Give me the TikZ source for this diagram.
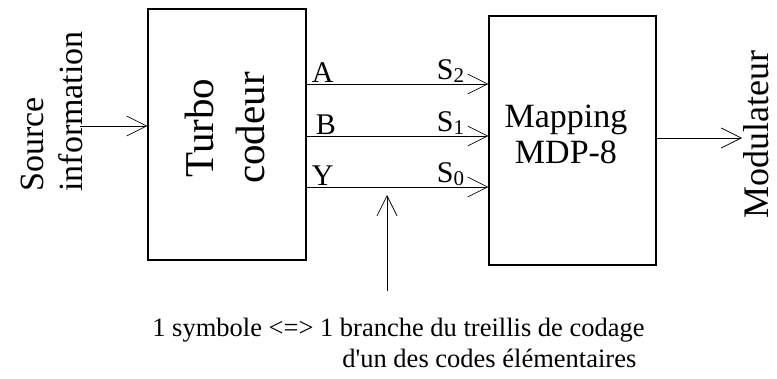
\documentclass[tikz,border=0pt]{standalone}
\usepackage{fontspec}
\setmainfont{Liberation Serif}
\usetikzlibrary{arrows.meta,positioning}

\begin{document}
\begin{tikzpicture}[x=1pt, y=-1pt, line width=0.7pt,
	>={Straight Barb[length=20pt,width=20pt,line width=0.7pt]},
	bloc/.style={draw, line width=1.1pt, inner sep=0pt},
	grand/.style={font=\fontsize{36}{40}\selectfont},
	lettre/.style={font=\fontsize{30}{32}\selectfont, inner sep=1pt},
	texte/.style={font=\fontsize{26.5}{30}\selectfont, inner sep=0pt}]
	\useasboundingbox (0,0) rectangle (777,378);
	% blocs
	\node [bloc, minimum width=158pt, minimum height=251pt] (turbo) at (227,134.5) {};
	\node [grand, font=\fontsize{41}{51}\selectfont, rotate=90, align=center] (turbotxt) at (225,128) {Turbo\\codeur};
	\node [bloc, minimum width=167pt, minimum height=249pt] (mapping) at (572.5,140.5) {};
	\node [grand, font=\fontsize{34}{36}\selectfont, align=center] (maptxt) at (566,134) {Mapping\\MDP-8};
	% entree et sortie
	\node [grand, font=\fontsize{34}{39}\selectfont, rotate=90, align=left, anchor=base west, inner sep=0pt] (source) at (82,192) {Source\\information};
	\coordinate (entree) at (80,126);
	\draw [->] (entree) -- (turbo.west |- entree);
	\node [grand, rotate=90, anchor=base, inner sep=0pt] (modulateur) at (768,135) {Modulateur};
	\coordinate (sortie) at (742,138);
	\draw [->] (mapping.east |- sortie) -- (sortie);
	% branches
	\coordinate (ya) at (0,84);
	\coordinate (yb) at (0,136);
	\coordinate (yy) at (0,187);
	\draw [->] (turbo.east |- ya) -- (mapping.west |- ya);
	\draw [->] (turbo.east |- yb) -- (mapping.west |- yb);
	\draw [->] (turbo.east |- yy) -- (mapping.west |- yy);
	\node [lettre, anchor=south west, xshift=4pt] (la) at (turbo.east |- ya) {A};
	\node [lettre, anchor=south west, xshift=8pt] (lb) at (turbo.east |- yb) {B};
	\node [lettre, anchor=south west, xshift=4pt] (ly) at (turbo.east |- yy) {Y};
	\node [lettre, anchor=south east, xshift=-23pt] (s2) at (mapping.west |- ya) {S\raisebox{-0.1em}{\fontsize{21}{22}\selectfont 2}};
	\node [lettre, anchor=south east, xshift=-23pt] (s1) at (mapping.west |- yb) {S\raisebox{-0.1em}{\fontsize{21}{22}\selectfont 1}};
	\node [lettre, anchor=south east, xshift=-23pt] (s0) at (mapping.west |- yy) {S\raisebox{-0.1em}{\fontsize{21}{22}\selectfont 0}};
	% legende
	\coordinate (pied) at (387,291);
	\coordinate (pointe) at (387,195);
	\draw [->] (pied) -- (pointe);
	\node [texte, anchor=base west] (ligne1) at (152,336) {1 symbole <=> 1 branche du treillis de codage};
	\node [texte, anchor=base west] (ligne2) at (342,367) {d\textquotesingle un des codes élémentaires};
\end{tikzpicture}
\end{document}
